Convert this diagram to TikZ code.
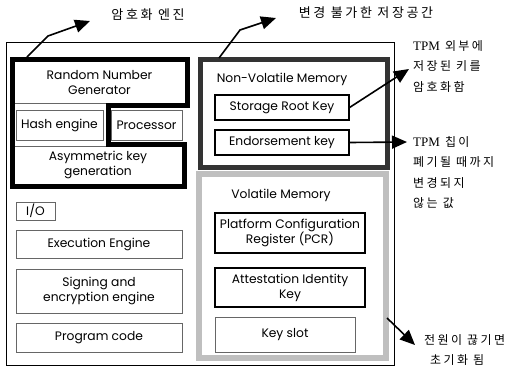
\documentclass[tikz,border=0pt]{standalone}
\usepackage{fontspec}
\setmainfont{Poppins}
\newfontfamily\kr[LetterSpace=20]{Noto Sans CJK KR}
\newfontfamily\tpm{Liberation Serif}
\usetikzlibrary{arrows.meta}
\begin{document}
\begin{tikzpicture}[x=1pt,y=-1pt,
  box/.style={draw=gray!80!black, line width=0.8pt, inner sep=0pt, align=center, font=\fontsize{12.3}{15}\selectfont},
  dbox/.style={draw=black, line width=1.1pt, inner sep=0pt, align=center, font=\fontsize{12.3}{15}\selectfont},
  lbl/.style={inner sep=0pt, align=center, font=\fontsize{12.3}{15}\selectfont},
  krl/.style={inner sep=0pt, font=\kr\fontsize{13}{21}\selectfont},
  krr/.style={inner sep=0pt, anchor=north west, align=left, font=\kr\fontsize{12}{20.5}\selectfont},
  arr/.style={line width=1.6pt, -{Triangle[length=15pt,width=13pt]}},
  thick/.style={line width=5pt, line join=miter}
]
\useasboundingbox (0,0) rectangle (508,368);
% outer box
\draw[line width=0.9pt] (6,42) rectangle (394,365);
% crypto engine group
\node[box, minimum width=171, minimum height=42] (rng) at (99.5,82) {Random Number\\Generator};
\node[box, minimum width=87, minimum height=30] (hash) at (59.5,125) {Hash engine};
\node[box, minimum width=71, minimum height=30] (proc) at (146.5,125) {Processor};
\node[box, minimum width=168, minimum height=38] (asym) at (98,165) {Asymmetric key\\generation};
\draw[thick] (12,59) -- (187,59) -- (187,105) -- (108,105) -- (108,144) -- (184,144) -- (184,186) -- (12,186) -- cycle;
% other left boxes
\node[box, minimum width=39, minimum height=18] (io) at (35.5,211) {I/O};
\node[box, minimum width=166, minimum height=28] (exec) at (99,244) {Execution Engine};
\node[box, minimum width=166, minimum height=44] (sign) at (99,291) {Signing and\\encryption engine};
\node[box, minimum width=166, minimum height=29] (prog) at (99,337.5) {Program code};
% non-volatile memory
\draw[thick, draw=black!80] (200,59) rectangle (387,167);
\node[lbl] (nvl) at (282,79) {Non-Volatile Memory};
\node[dbox, minimum width=134, minimum height=25] (srk) at (282,107.5) {Storage Root Key};
\node[dbox, minimum width=134, minimum height=25] (ek) at (282,142.5) {Endorsement key};
% volatile memory
\draw[thick, line width=6pt, draw=gray!50] (199,174) rectangle (386,358);
\node[lbl] (vml) at (281,195) {Volatile Memory};
\node[dbox, minimum width=150, minimum height=40] (pcr) at (290,233) {Platform Configuration\\Register (PCR)};
\node[dbox, minimum width=150, minimum height=39] (aik) at (290,287.5) {Attestation Identity\\Key};
\node[box, minimum width=140, minimum height=35] (slot) at (285,334.5) {Key slot};
% labels
\node[krl] (l1) at (148,15) {암호화 엔진};
\node[krl] (l2) at (366,13) {변경 불가한 저장공간};
\node[krr] (l3) at (413,40) {{\tpm\fontsize{13}{21}\selectfont TPM} 외부에\\저장된 키를\\암호화함};
\node[krr] (l4) at (413,136) {{\tpm\fontsize{13}{21}\selectfont TPM} 칩이\\폐기될 때까지\\변경되지\\않는 값};
\node[krr] (l5) at (424,334) {전원이 끊기면\\\hspace*{6pt}초기화 됨};
% arrows
\coordinate (s1) at (27,57);
\coordinate (t1) at (90,21);
\draw[arr] (s1) -- (48,36) -- (t1);
\coordinate (s2) at (219,58);
\coordinate (t2) at (276,18);
\draw[arr] (s2) -- (240,30) -- (t2);
\coordinate (t3) at (409,69);
\draw[arr] (srk.east) -- (t3);
\coordinate (t4) at (407,142);
\draw[arr] (ek.east) -- (t4);
\coordinate (s5) at (387,318);
\coordinate (t5) at (415,345);
\draw[arr] (s5) -- (t5);
\end{tikzpicture}
\end{document}
